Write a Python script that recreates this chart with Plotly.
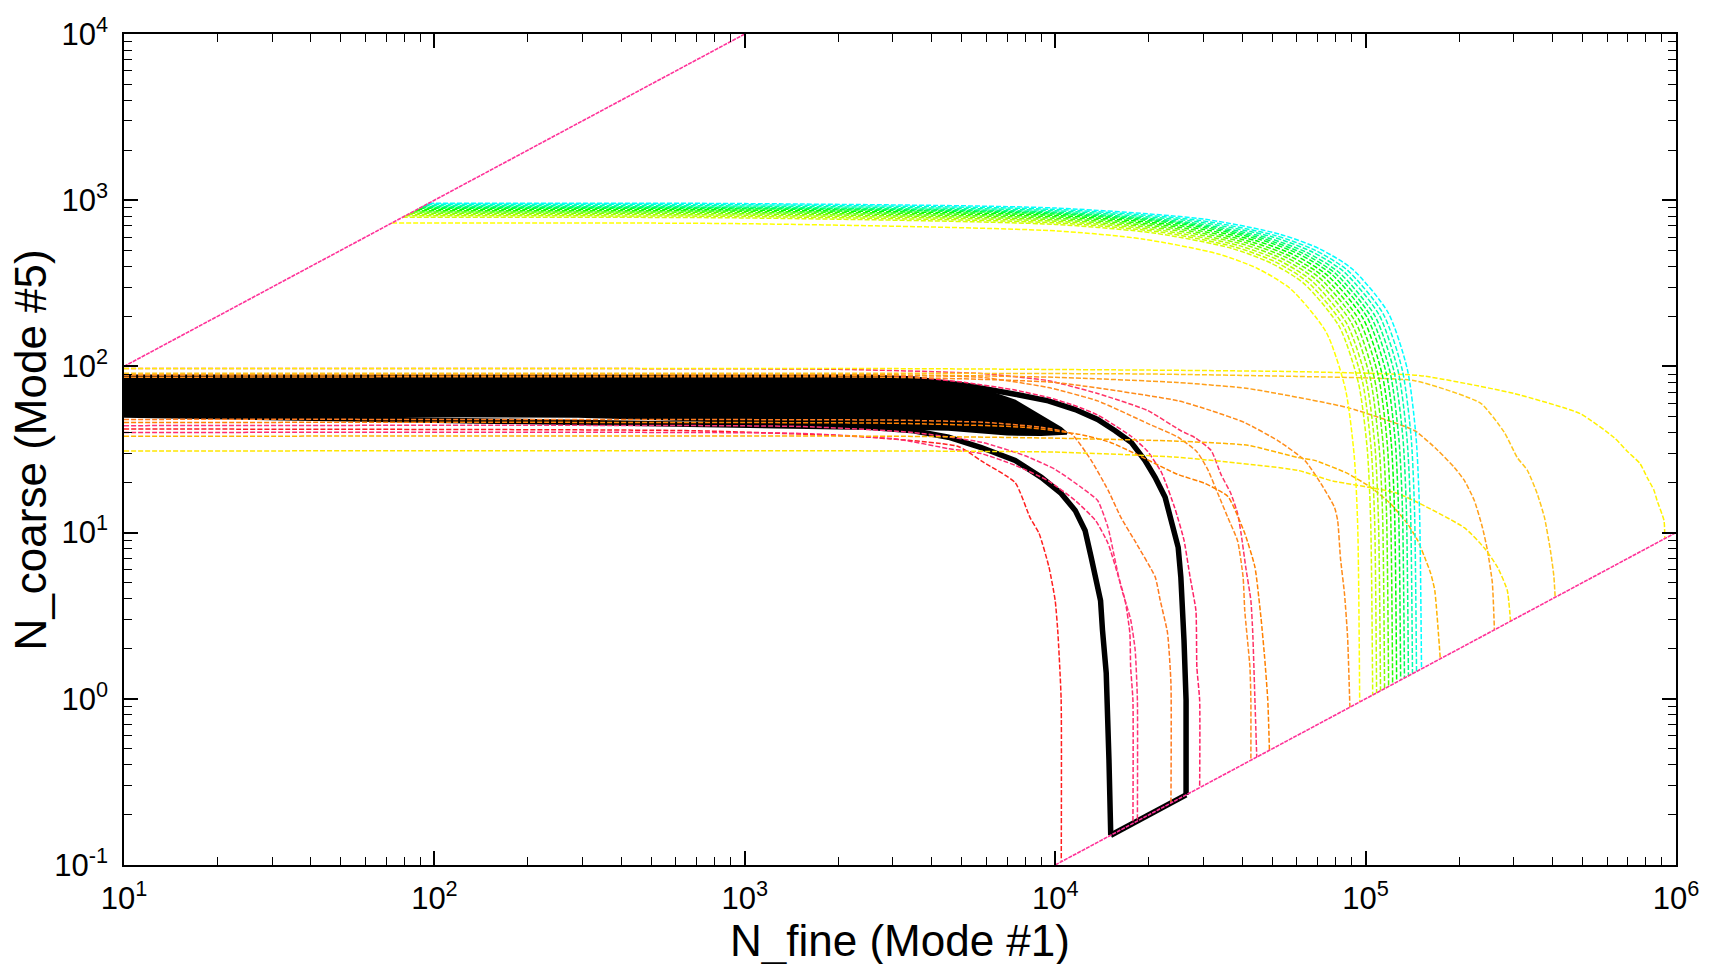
import plotly.graph_objects as go

# ---------------- data ----------------
# boundary diagonals
DIAG_UP_X = [10, 1000]
DIAG_UP_Y = [100, 10000]
DIAG_LO_X = [10000, 1000000]
DIAG_LO_Y = [0.1, 10]

# dense black band (many overlapping black trajectories)
BAND_X = [10, 700, 2000, 3500, 4530, 5780, 7430, 9020, 10450, 10900,
          9000, 7000, 5780, 4530, 3000, 2000, 1200, 711, 290, 10]
BAND_Y = [87, 87, 86, 83, 79, 73, 62, 50, 42.5, 39.5,
          38.8, 39, 40, 41.7, 42.5, 43.5, 45, 47.5, 50, 51]

# thick black trajectories
BLACK_OUTER_X = [10, 2500, 3500, 5140, 7430, 9500, 11600, 13700, 15600, 17560, 19450,
                 20980, 22600, 23600, 24900, 25400, 25800, 26000, 26400, 26400]
BLACK_OUTER_Y = [86, 86, 84, 77, 68, 62, 55, 48, 41, 35, 27.2,
                 21.5, 16.3, 11.8, 8.15, 5.38, 3.4, 2.25, 0.98, 0.264]
BLACK_INNER_X = [10, 2500, 3500, 4530, 5780, 7430, 9020, 10450, 11600, 12480, 13060,
                 13750, 14000, 14200, 14600, 14900, 15100]
BLACK_INNER_Y = [51, 43, 41, 37.5, 32.5, 27.2, 21.5, 17.2, 13.6, 10.3, 7.1,
                 4.5, 3.9, 2.6, 1.43, 0.43, 0.151]
BLACK_BASE_X = [15100, 26400]
BLACK_BASE_Y = [0.151, 0.264]

# lower family (start at the left edge)
L1_X = [10, 700, 2450, 4870, 5780, 7430, 8300, 8870, 9550, 10000, 10200, 10450, 10460]
L1_Y = [42, 41, 37.6, 33, 27, 20, 12.3, 9.9, 6.2, 3.9, 2.5, 1.0, 0.105]
L2_X = [10, 1500, 3100, 4530, 5780, 7430, 9500, 11600, 13500, 14800, 16000, 16800, 17400, 17500, 17800, 17800]
L2_Y = [40, 39.5, 36.5, 32, 29.9, 25.4, 20.5, 15.6, 11.8, 8.6, 5.4, 3.9, 2.48, 1.55, 0.98, 0.178]
L3_X = [10, 1500, 3500, 5780, 8000, 10000, 12000, 13700, 14800, 15600, 16300, 17500, 18100, 18400, 18400]
L3_Y = [44, 43.5, 40, 35, 29, 24, 19, 15.6, 10.7, 6.8, 4.7, 3.0, 1.96, 0.98, 0.184]
L4_X = [10, 3000, 6000, 9000, 11250, 13060, 14800, 16300, 18000, 21000, 21800, 23000, 23600, 23600]
L4_Y = [48, 47.5, 46, 43, 39.4, 27.2, 18, 12.3, 9, 5.4, 3.9, 2.5, 1.24, 0.236]
L5_X = [10, 3000, 5140, 7430, 9500, 11600, 13700, 15600, 17560, 19800, 22000, 24300, 26000, 27200, 28400, 28600, 29200, 29200]
L5_Y = [89, 88, 80, 72, 65, 58, 51, 44, 38, 31, 23, 14, 9, 5.4, 3.4, 1.55, 0.98, 0.292]
L6_X = [10, 2000, 5780, 9500, 13700, 19900, 24800, 28600, 31000, 33500, 36000, 38700, 40300, 40800, 42400, 42700, 42700]
L6_Y = [89, 88.5, 86, 74.6, 62, 45.3, 37.6, 30.7, 24, 17, 12.3, 8.9, 5.4, 3.4, 1.55, 0.98, 0.427]
L7_X = [10, 2000, 5780, 9500, 13700, 19900, 25400, 28200, 31800, 34200, 36800, 38700, 39700, 41100, 42700, 43300, 44000, 44600]
L7_Y = [97, 96, 90.6, 82, 68.7, 54.2, 41, 37.3, 31.2, 22.4, 17.2, 13, 9.9, 6.2, 3.9, 2.48, 0.98, 0.446]
L8_X = [10, 3000, 8000, 12000, 15000, 18000, 24800, 30300, 36000, 40800, 44000, 46000, 47300, 48400, 49000]
L8_Y = [46, 45.5, 43, 39, 35, 30, 22.4, 19.8, 16.5, 9.9, 6.2, 3.1, 1.76, 0.98, 0.49]
L9_X = [10, 3000, 10000, 24800, 31800, 40800, 52100, 63700, 71700, 79400, 81300, 83000, 85500, 87500, 89000]
L9_Y = [86, 86, 80, 62.2, 54.2, 45.9, 35.8, 27.2, 19.8, 14.2, 11.8, 7, 4.3, 2.34, 0.89]
L10_X = [10, 3000, 10000, 24800, 41800, 60400, 68500, 87500, 104000, 120000, 136000, 147000, 155000, 162000, 167000, 174000]
L10_Y = [38, 38, 37, 35.5, 33.5, 28.3, 27.2, 22.7, 18.7, 15, 11.4, 9.0, 7.1, 5.7, 4.5, 1.74]
L11_X = [10, 3000, 10000, 24800, 41800, 87500, 144000, 171000, 193000, 208000, 224000, 238000, 247000, 256000, 260000]
L11_Y = [89, 89, 86, 80, 73.6, 56.5, 41, 31.2, 24.7, 20.6, 15.6, 10.7, 7.8, 5.0, 2.6]
L12_X = [10, 3000, 10000, 24800, 60400, 77000, 127000, 208000, 241000, 266000, 286000, 293000]
L12_Y = [31, 31, 30.5, 28.4, 23.7, 20.6, 17.2, 10.7, 8.1, 6.2, 4.5, 2.93]
L13_X = [10, 3000, 20000, 60000, 144000, 235000, 280000, 308000, 332000, 357000, 377000, 394000, 404000, 408000]
L13_Y = [91, 91, 90, 87, 82, 60, 40, 28.3, 23.7, 17.2, 12.3, 7.8, 5.5, 4.08]
L14_X = [10, 3000, 20000, 60000, 150000, 301000, 491000, 632000, 695000, 766000, 807000, 849000, 869000, 915000, 920000]
L14_Y = [97, 97, 95, 93, 88, 68.7, 52, 37.3, 31, 26, 21.5, 18, 15.6, 11.8, 9.2]

LOWER = [(L1_X, L1_Y), (L2_X, L2_Y), (L3_X, L3_Y), (L4_X, L4_Y), (L5_X, L5_Y),
         (L6_X, L6_Y), (L7_X, L7_Y), (L8_X, L8_Y), (L9_X, L9_Y), (L10_X, L10_Y),
         (L11_X, L11_Y), (L12_X, L12_Y), (L13_X, L13_Y), (L14_X, L14_Y)]
LOWER_COLORS = ["#ff1f1f", "#ff2a6e", "#ff3377", "#ff7a1f", "#ff2266", "#ff8a1f", "#ff3366",
                "#ff8000", "#ff8c1a", "#ffb300", "#ff9f1a", "#ffe600", "#ffc61a", "#fff200"]

# upper family (start on the upper diagonal)
U1_X = [73, 1000, 10000, 19100, 33500, 45000, 57400, 74600, 86100, 91900, 94300, 95700]
U1_Y = [730, 722, 654, 584, 475, 387, 292, 161, 73, 29, 11, 0.957]
U2_X = [79, 1000, 10000, 21100, 36900, 49500, 63200, 82200, 94900, 101200, 103800, 105400]
U2_Y = [790, 782, 715, 632, 514, 419, 316, 174, 79, 32, 12, 1.05]
U3_X = [80.5, 1000, 10000, 21700, 38000, 51000, 65100, 84600, 97700, 104200, 106900, 108500]
U3_Y = [805, 798, 731, 644, 523, 427, 322, 177, 81, 32, 12, 1.085]
U4_X = [82, 1000, 10000, 22300, 39100, 52500, 67000, 87100, 100500, 107200, 110000, 111700]
U4_Y = [820, 813, 747, 656, 533, 435, 328, 180, 82, 33, 12, 1.12]
U5_X = [83.5, 1000, 10000, 23000, 40300, 54100, 69100, 89800, 103600, 110500, 113400, 115100]
U5_Y = [835, 828, 762, 668, 543, 443, 334, 184, 84, 33, 13, 1.15]
U6_X = [85, 1000, 10000, 23700, 41500, 55700, 71200, 92500, 106700, 113900, 116800, 118600]
U6_Y = [850, 843, 778, 680, 553, 451, 340, 187, 85, 34, 13, 1.19]
U7_X = [86.5, 1000, 10000, 24400, 42800, 57400, 73300, 95300, 110000, 117300, 120400, 122200]
U7_Y = [865, 858, 794, 692, 562, 458, 346, 190, 87, 35, 13, 1.22]
U8_X = [88, 1000, 10000, 25200, 44100, 59200, 75500, 98200, 113300, 120900, 124000, 125900]
U8_Y = [880, 873, 810, 704, 572, 466, 352, 194, 88, 35, 13, 1.26]
U9_X = [89.5, 1000, 10000, 25900, 45400, 61000, 77800, 101200, 116700, 124500, 127800, 129700]
U9_Y = [895, 888, 826, 716, 582, 474, 358, 197, 90, 36, 13, 1.30]
U10_X = [90.5, 1000, 10000, 26700, 46700, 62700, 80000, 104100, 120100, 128100, 131400, 133400]
U10_Y = [905, 898, 837, 724, 588, 480, 362, 199, 91, 36, 14, 1.33]
U11_X = [91.5, 1000, 10000, 27500, 48100, 64600, 82400, 107200, 123700, 131900, 135300, 137400]
U11_Y = [915, 908, 848, 732, 595, 485, 366, 201, 92, 37, 14, 1.37]
U12_X = [93, 1000, 10000, 28300, 49600, 66600, 85000, 110400, 127400, 135900, 139500, 141600]
U12_Y = [930, 923, 864, 744, 605, 493, 372, 205, 93, 37, 14, 1.42]
U13_X = [94.5, 1000, 10000, 29200, 51100, 68600, 87500, 113800, 131300, 140100, 143700, 145900]
U13_Y = [945, 939, 880, 756, 614, 501, 378, 208, 95, 38, 14, 1.46]
U14_X = [96, 1000, 10000, 30300, 53000, 71200, 90800, 118100, 136300, 145300, 149100, 151400]
U14_Y = [960, 954, 897, 768, 624, 509, 384, 211, 96, 38, 14, 1.51]

UPPER = [(U1_X, U1_Y), (U2_X, U2_Y), (U3_X, U3_Y), (U4_X, U4_Y), (U5_X, U5_Y),
         (U6_X, U6_Y), (U7_X, U7_Y), (U8_X, U8_Y), (U9_X, U9_Y), (U10_X, U10_Y),
         (U11_X, U11_Y), (U12_X, U12_Y), (U13_X, U13_Y), (U14_X, U14_Y)]
UPPER_COLORS = ["#ffff00", "#d4ff00", "#bfff00", "#aaff00", "#80ff00", "#55ff00", "#2bff00",
                "#00ff00", "#00ff2b", "#00ff55", "#00ff80", "#00ffaa", "#00ffd4", "#00ffff"]

# axis ticks
X_TICKS = [10, 100, 1000, 10000, 100000, 1000000]
X_TICK_TEXT = ["10<sup>1</sup>", "10<sup>2</sup>", "10<sup>3</sup>", "10<sup>4</sup>",
               "10<sup>5</sup>", "10<sup>6</sup>"]
Y_TICKS = [0.1, 1, 10, 100, 1000, 10000]
Y_TICK_TEXT = ["10<sup>-1</sup>", "10<sup>0</sup>", "10<sup>1</sup>", "10<sup>2</sup>",
               "10<sup>3</sup>", "10<sup>4</sup>"]
X_MINOR = [m * 10 ** e for e in range(1, 6) for m in range(2, 10)]
Y_MINOR = [m * 10 ** e for e in range(-1, 4) for m in range(2, 10)]

# ---------------- figure ----------------
fig = go.Figure()


def add_line(x, y, color, width=1.4, dash="5px,2px", fill=None, shape="linear", smooth=0.7):
    fig.add_trace(go.Scatter(
        x=x, y=y, mode="lines",
        line=dict(color=color, width=width, dash=dash, shape=shape,
                  smoothing=smooth if shape == "spline" else None),
        fill=fill, fillcolor=color if fill else None,
        hoverinfo="skip", showlegend=False))


add_line(BAND_X, BAND_Y, "black", width=2.5, dash="solid", fill="toself")
add_line(BLACK_OUTER_X, BLACK_OUTER_Y, "black", width=5.5, dash="solid")
add_line(BLACK_INNER_X, BLACK_INNER_Y, "black", width=5.5, dash="solid")
add_line(BLACK_BASE_X, BLACK_BASE_Y, "black", width=5.5, dash="solid")

for (x, y), c in zip(LOWER, LOWER_COLORS):
    add_line(x, y, c, width=1.5, shape="spline", smooth=0.5)
for (x, y), c in zip(UPPER, UPPER_COLORS):
    add_line(x, y, c, width=1.5, shape="spline")

add_line(DIAG_UP_X, DIAG_UP_Y, "#ff3399", width=1.6, dash="4px,1px")
add_line(DIAG_LO_X, DIAG_LO_Y, "#ff3399", width=1.6, dash="4px,1px")

axis_common = dict(
    type="log", showgrid=False, zeroline=False,
    showline=True, linecolor="black", linewidth=1.5, mirror="allticks",
    ticks="inside", ticklen=14, tickwidth=1.5, tickcolor="black",
    tickmode="array", tickfont=dict(size=31, color="black"),
)

fig.update_layout(
    width=1711, height=964,
    margin=dict(l=124, r=32, t=33, b=99),
    paper_bgcolor="white", plot_bgcolor="white",
    showlegend=False,
    font=dict(family="Liberation Sans, Arial, sans-serif", color="black"),
    xaxis=dict(range=[1, 6], tickvals=X_TICKS, ticktext=X_TICK_TEXT,
               ticklabelstandoff=5,
               minor=dict(tickmode="array", tickvals=X_MINOR, ticks="inside",
                          ticklen=8, tickwidth=1.2, tickcolor="black", showgrid=False),
               **axis_common),
    yaxis=dict(range=[-1, 4], tickvals=Y_TICKS, ticktext=Y_TICK_TEXT,
               ticklabelstandoff=8,
               minor=dict(tickmode="array", tickvals=Y_MINOR, ticks="inside",
                          ticklen=8, tickwidth=1.2, tickcolor="black", showgrid=False),
               **axis_common),
    annotations=[
        dict(text="N_fine (Mode #1)", xref="paper", yref="paper", x=0.5, y=-0.091,
             xanchor="center", yanchor="middle", showarrow=False,
             font=dict(size=44, color="black")),
        dict(text="N_coarse (Mode #5)", xref="paper", yref="paper", x=-0.06, y=0.5,
             xanchor="center", yanchor="middle", textangle=-90, showarrow=False,
             font=dict(size=44, color="black")),
    ],
)

fig.write_html("out.html")
